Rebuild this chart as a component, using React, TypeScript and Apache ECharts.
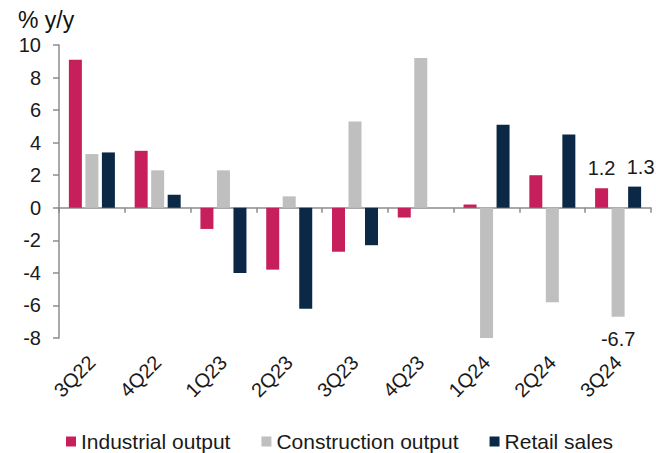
import React, { useEffect, useRef } from "react";
import * as echarts from "echarts";

const categories = ["3Q22", "4Q22", "1Q23", "2Q23", "3Q23", "4Q23", "1Q24", "2Q24", "3Q24"];
const industrialOutput = [9.1, 3.5, -1.3, -3.8, -2.7, -0.6, 0.2, 2.0, 1.2];
const constructionOutput = [3.3, 2.3, 2.3, 0.7, 5.3, 9.2, -8.0, -5.8, -6.7];
const retailSales = [3.4, 0.8, -4.0, -6.2, -2.3, null, 5.1, 4.5, 1.3];
const seriesNames = ["Industrial output", "Construction output", "Retail sales"];
const colors = ["#C61F5B", "#BFBFBF", "#0B2946"];

const FONT = "Liberation Sans, Arial, sans-serif";

export default function App() {
  const ref = useRef<HTMLDivElement>(null);
  useEffect(() => {
    if (!ref.current) return;
    const chart = echarts.init(ref.current, null, { renderer: "svg" });
    const lastIdx = categories.length - 1;
    const mk = (arr: (number | null)[], labelPos: string | null, offset?: number[]) =>
      arr.map((v, i) => {
        if (i === lastIdx && labelPos) {
          return {
            value: v,
            label: {
              show: true,
              position: labelPos,
              distance: labelPos === "top" ? 10 : 12,
              offset: offset || [0, 0],
              formatter: (p: any) => Number(p.value).toFixed(1),
              fontSize: 20,
              fontFamily: FONT,
              color: "#1a1a1a",
            },
          };
        }
        return v;
      });
    chart.setOption({
      animation: false,
      textStyle: { fontFamily: FONT },
      grid: { left: 59, right: 5, top: 45, bottom: 115, containLabel: false },
      graphic: [
        {
          type: "text",
          left: 18,
          top: 8,
          style: { text: "% y/y", fontSize: 23, fontFamily: FONT, fill: "#111" },
        },
      ],
      legend: {
        left: 66,
        top: 431,
        padding: 0,
        itemWidth: 10,
        itemHeight: 10,
        itemGap: 31,
        icon: "rect",
        textStyle: { fontSize: 21, fontFamily: FONT, color: "#1a1a1a" },
        data: seriesNames,
      },
      xAxis: [
        {
          type: "category",
          data: categories,
          position: "bottom",
          axisLine: { show: false, onZero: false },
          axisTick: { show: false },
          axisLabel: {
            interval: 0,
            rotate: 45,
            margin: 21,
            fontSize: 20,
            fontFamily: FONT,
            color: "#1a1a1a",
          },
        },
        {
          type: "category",
          data: categories,
          position: "bottom",
          axisLine: { show: true, onZero: true, lineStyle: { color: "#8c8c8c", width: 1.5 } },
          axisTick: { show: true, length: 5, lineStyle: { color: "#8c8c8c", width: 1.5 } },
          axisLabel: { show: false },
        },
      ],
      yAxis: {
        type: "value",
        min: -8,
        max: 10,
        interval: 2,
        splitLine: { show: false },
        axisLine: { show: true, lineStyle: { color: "#8c8c8c", width: 1.5 } },
        axisTick: { show: true, length: 6, lineStyle: { color: "#8c8c8c", width: 1.5 } },
        axisLabel: { fontSize: 20, fontFamily: FONT, color: "#1a1a1a", margin: 18 },
      },
      series: [
        {
          name: seriesNames[0],
          type: "bar",
          xAxisIndex: 0,
          barWidth: 13,
          barGap: "27%",
          itemStyle: { color: colors[0] },
          data: mk(industrialOutput, "top"),
        },
        {
          name: seriesNames[1],
          type: "bar",
          xAxisIndex: 0,
          barWidth: 13,
          barGap: "27%",
          itemStyle: { color: colors[1] },
          data: mk(constructionOutput, "bottom"),
        },
        {
          name: seriesNames[2],
          type: "bar",
          xAxisIndex: 0,
          barWidth: 13,
          barGap: "27%",
          itemStyle: { color: colors[2] },
          data: mk(retailSales, "top", [6, 0]),
        },
      ],
    });
    return () => chart.dispose();
  }, []);
  return <div ref={ref} style={{ width: 656, height: 453, position: "absolute", left: 0, top: 0 }} />;
}
